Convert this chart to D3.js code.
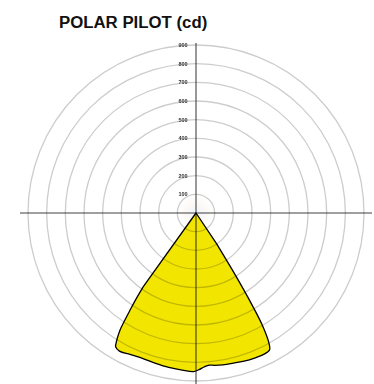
<!DOCTYPE html>
<html>
<head>
<meta charset="utf-8">
<script src="https://cdn.jsdelivr.net/npm/d3@7"></script>
<style>
  html, body { margin: 0; padding: 0; background: #fff; }
  svg { display: block; }
</style>
</head>
<body>
<svg id="chart" width="374" height="384"></svg>
<script>
// Luminous intensity (cd) by angle from nadir (deg); negative = left side
const angles = [-35.6, -34.8, -34.2, -33.5, -33, -32.2, -31.5, -31, -29, -25, -20, -15, -10, -5, -1,
                1, 3, 5, 7, 10, 14, 18, 22, 25, 27, 28.3, 29.3, 30.5, 31.3, 32.3, 33.8];
const intensity = [485, 570, 627, 700, 747, 790, 820, 836, 846, 836, 830, 834, 840, 845, 850,
                   840, 826, 818, 822, 826, 829, 834, 838, 840, 838, 832, 798, 707, 587, 402, 196];
const ringValues = [100, 200, 300, 400, 500, 600, 700, 800, 900];
const ringLabels = ["100", "200", "300", "400", "500", "600", "700", "800", "900"];
const title = "POLAR PILOT (cd)";

const svg = d3.select("#chart");
const cx = 196, cy = 213;
const r = d3.scaleLinear().domain([0, 900]).range([0, 168]);

svg.append("text")
  .attr("x", 59).attr("y", 28)
  .attr("font-family", "Liberation Sans, Arial, sans-serif")
  .attr("font-weight", "bold")
  .attr("font-size", 16.8)
  .attr("fill", "#111")
  .text(title);

const g = svg.append("g").attr("transform", `translate(${cx},${cy})`);

const defs = svg.append("defs");
defs.append("filter").attr("id", "soft")
  .append("feGaussianBlur").attr("stdDeviation", 0.45);
const glow = defs.append("radialGradient").attr("id", "glow");
glow.append("stop").attr("offset", "0%").attr("stop-color", "#e4eefa").attr("stop-opacity", 0.7);
glow.append("stop").attr("offset", "60%").attr("stop-color", "#faf3ea").attr("stop-opacity", 0.4);
glow.append("stop").attr("offset", "100%").attr("stop-color", "#fff").attr("stop-opacity", 0);

g.append("circle").attr("r", 20).attr("fill", "url(#glow)");

// Light distribution lobe (0° points straight down): straight flanks from the
// centre, smooth curve through the measured intensities
const pts = angles.map((a, i) => [Math.PI - a * Math.PI / 180, r(intensity[i])]);
const curve = d3.lineRadial().curve(d3.curveCatmullRom.alpha(0.5))(pts);
const lobe = "M0,0L" + curve.slice(1) + "Z";

g.append("path")
  .attr("d", lobe)
  .attr("fill", "#f2e500");

// Concentric grid rings
const grid = g.append("g").attr("filter", "url(#soft)");
grid.selectAll("circle.ring")
  .data(ringValues)
  .join("circle")
  .attr("class", "ring")
  .attr("r", d => r(d))
  .attr("fill", "none")
  .attr("stroke", "rgba(0,0,0,0.2)")
  .attr("stroke-width", 1.3);

// Axes through the centre
grid.append("line")
  .attr("x1", -176).attr("x2", 176).attr("y1", 0).attr("y2", 0)
  .attr("stroke", "rgba(0,0,0,0.5)").attr("stroke-width", 1.6);
grid.append("line")
  .attr("x1", 0).attr("x2", 0).attr("y1", -170).attr("y2", 180)
  .attr("stroke", "rgba(0,0,0,0.5)").attr("stroke-width", 1.6);

// Ring value labels along the vertical axis
g.append("g").attr("filter", "url(#soft)")
  .selectAll("text")
  .data(ringValues)
  .join("text")
  .attr("x", -13).attr("y", d => -r(d))
  .attr("dy", "0.35em")
  .attr("text-anchor", "middle")
  .attr("font-family", "Liberation Sans, Arial, sans-serif")
  .attr("font-weight", "bold")
  .attr("font-size", 5.5)
  .attr("fill", "#333")
  .text((d, i) => ringLabels[i]);

// Lobe outline
g.append("path")
  .attr("d", lobe)
  .attr("fill", "none")
  .attr("stroke", "#000")
  .attr("stroke-width", 1.3)
  .attr("stroke-linejoin", "round");
</script>
</body>
</html>
